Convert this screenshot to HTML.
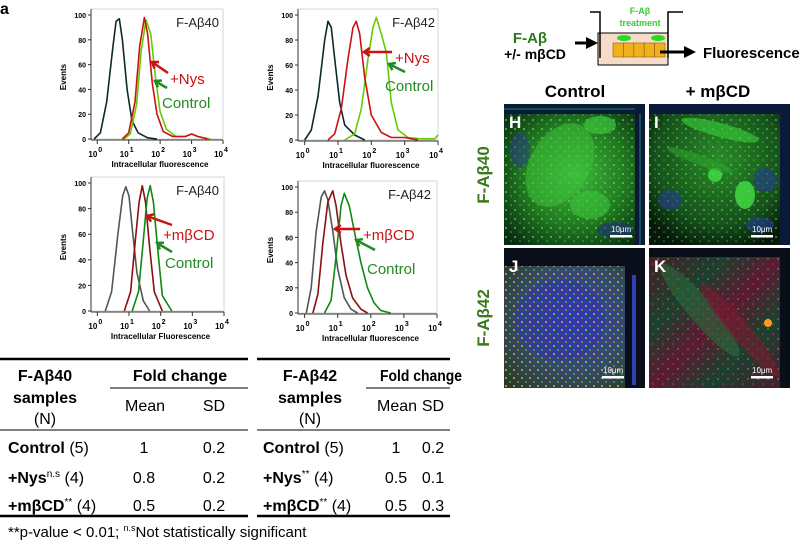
<!DOCTYPE html>
<html><head><meta charset="utf-8"><style>
html,body{margin:0;padding:0;background:#fff;}
svg{display:block;font-family:"Liberation Sans",Arial,sans-serif;}
</style></head><body>
<svg id="fig" width="800" height="544" viewBox="0 0 800 544" xmlns="http://www.w3.org/2000/svg">
<defs>
<radialGradient id="gH" cx="50%" cy="50%" r="65%"><stop offset="0" stop-color="#3fb83a"/><stop offset="0.55" stop-color="#237a22"/><stop offset="1" stop-color="#0a2a14"/></radialGradient>
<radialGradient id="gI" cx="50%" cy="40%" r="65%"><stop offset="0" stop-color="#2a8a28"/><stop offset="0.7" stop-color="#17501c"/><stop offset="1" stop-color="#08180c"/></radialGradient>
<radialGradient id="gJ" cx="50%" cy="50%" r="65%"><stop offset="0" stop-color="#3a40b0"/><stop offset="0.6" stop-color="#38486a"/><stop offset="1" stop-color="#2a3a2a"/></radialGradient>
<linearGradient id="gK" x1="0" y1="0" x2="1" y2="1"><stop offset="0" stop-color="#4a1a28"/><stop offset="0.3" stop-color="#1a4030"/><stop offset="0.5" stop-color="#5a1a34"/><stop offset="0.7" stop-color="#1a4030"/><stop offset="1" stop-color="#4a1a30"/></linearGradient>
<pattern id="pGreen" width="9" height="9" patternUnits="userSpaceOnUse"><circle cx="2" cy="3" r="1" fill="#5f5"/><circle cx="7" cy="7" r="0.8" fill="#4e4"/></pattern>
<pattern id="pYel" width="8" height="8" patternUnits="userSpaceOnUse"><circle cx="2" cy="2" r="1" fill="#dd2"/><circle cx="6" cy="6" r="0.9" fill="#4e4"/></pattern>
<pattern id="pRed" width="10" height="10" patternUnits="userSpaceOnUse"><circle cx="3" cy="4" r="0.9" fill="#e33"/><circle cx="8" cy="9" r="0.7" fill="#dd3"/></pattern>
<marker id="ah" markerWidth="4" markerHeight="4" refX="2" refY="2" orient="auto"><path d="M0,0 L4,2 L0,4 z" fill="#000"/></marker>
</defs>
<text x="0" y="14" font-size="16" font-weight="bold">a</text>
<g id="charts"></g>

<g>
<text x="530" y="43" font-size="15" font-weight="bold" fill="#2a7a1a" text-anchor="middle">F-Aβ</text>
<text x="535" y="59" font-size="14" font-weight="bold" text-anchor="middle">+/- mβCD</text>
<rect x="598" y="33" width="70" height="32" fill="#f6dcc8" stroke="#000" stroke-width="1"/>
<path d="M590,12 H600 V58 M683,12 H668 V58" fill="none" stroke="#000" stroke-width="1.5"/>
<g>
<rect x="613" y="43" width="10.4" height="14" fill="#f0b020" stroke="#8a6000" stroke-width="0.6"/>
<rect x="623.4" y="43" width="10.4" height="14" fill="#f0b020" stroke="#8a6000" stroke-width="0.6"/>
<rect x="633.8" y="43" width="10.4" height="14" fill="#f0b020" stroke="#8a6000" stroke-width="0.6"/>
<rect x="644.2" y="43" width="10.4" height="14" fill="#f0b020" stroke="#8a6000" stroke-width="0.6"/>
<rect x="654.6" y="43" width="10.4" height="14" fill="#f0b020" stroke="#8a6000" stroke-width="0.6"/>
</g>
<ellipse cx="624" cy="38" rx="7" ry="3" fill="#22dd22"/>
<ellipse cx="658" cy="38" rx="7" ry="3" fill="#22dd22"/>
<text x="640" y="14" font-size="9" font-weight="bold" fill="#33cc33" text-anchor="middle">F-Aβ</text>
<text x="640" y="26" font-size="9" font-weight="bold" fill="#33cc33" text-anchor="middle">treatment</text>
<line x1="575" y1="43" x2="592" y2="43" stroke="#000" stroke-width="3" marker-end="url(#ah)"/>
<line x1="660" y1="52" x2="690" y2="52" stroke="#000" stroke-width="3" marker-end="url(#ah)"/>
<text x="703" y="58" font-size="15" font-weight="bold">Fluorescence</text>
</g>

<text x="575" y="97" font-size="17" font-weight="bold" text-anchor="middle">Control</text>
<text x="718" y="97" font-size="17" font-weight="bold" text-anchor="middle">+ mβCD</text>
<text transform="translate(489,175) rotate(-90)" font-size="17" font-weight="bold" fill="#3a7a1a" text-anchor="middle">F-Aβ40</text>
<text transform="translate(489,318) rotate(-90)" font-size="17" font-weight="bold" fill="#3a7a1a" text-anchor="middle">F-Aβ42</text>

<g>
<rect x="504" y="104" width="141" height="141" fill="url(#gH)"/>
<rect x="504" y="104" width="141" height="141" fill="url(#pGreen)" opacity="0.7"/>
<ellipse cx="560" cy="165" rx="30" ry="45" fill="#3cc03a" opacity="0.55" transform="rotate(30 560 165)"/>
<ellipse cx="590" cy="205" rx="20" ry="14" fill="#3ac43a" opacity="0.6"/>
<ellipse cx="600" cy="125" rx="16" ry="9" fill="#3dc83d" opacity="0.7"/>
<ellipse cx="520" cy="150" rx="10" ry="18" fill="#2a3a90" opacity="0.5"/>
<ellipse cx="615" cy="230" rx="18" ry="8" fill="#20307a" opacity="0.6"/>
<rect x="504" y="104" width="141" height="10" fill="#0c1a3a"/>
<rect x="635" y="104" width="10" height="141" fill="#0c1a3a"/>
<line x1="504" y1="109" x2="635" y2="109" stroke="#2c9" stroke-width="1" opacity="0.6"/>
<line x1="640" y1="114" x2="640" y2="245" stroke="#2c9" stroke-width="1" opacity="0.6"/>
<text x="509" y="128" font-size="17" font-weight="bold" fill="#fff">H</text>
<text x="611" y="232" font-size="8" fill="#fff">10μm</text>
<rect x="610" y="235" width="22" height="2.5" fill="#fff"/>
</g>
<g>
<rect x="649" y="104" width="141" height="141" fill="url(#gI)"/>
<rect x="649" y="104" width="141" height="141" fill="url(#pGreen)" opacity="0.6"/>
<ellipse cx="720" cy="130" rx="40" ry="7" fill="#3ad03a" opacity="0.6" transform="rotate(15 720 130)"/>
<ellipse cx="745" cy="195" rx="10" ry="14" fill="#44e044" opacity="0.8"/>
<ellipse cx="715" cy="175" rx="7" ry="7" fill="#44e044" opacity="0.8"/>
<ellipse cx="700" cy="160" rx="35" ry="5" fill="#2aa02a" opacity="0.6" transform="rotate(20 700 160)"/>
<ellipse cx="670" cy="200" rx="12" ry="10" fill="#253c90" opacity="0.6"/>
<ellipse cx="765" cy="180" rx="12" ry="12" fill="#253c90" opacity="0.6"/>
<ellipse cx="760" cy="225" rx="14" ry="8" fill="#253c90" opacity="0.6"/>
<rect x="649" y="104" width="141" height="10" fill="#0c1a3a"/>
<rect x="780" y="114" width="10" height="131" fill="#0c1a3a"/>
<text x="654" y="128" font-size="17" font-weight="bold" fill="#fff">I</text>
<text x="752" y="232" font-size="8" fill="#fff">10μm</text>
<rect x="751" y="235" width="22" height="2.5" fill="#fff"/>
</g>
<g>
<rect x="504" y="248" width="141" height="140" fill="url(#gJ)"/>
<ellipse cx="560" cy="320" rx="45" ry="40" fill="#3030b0" opacity="0.5"/>
<rect x="504" y="266" width="121" height="122" fill="url(#pYel)" opacity="0.8"/>
<rect x="504" y="248" width="141" height="18" fill="#0a0e1a"/>
<rect x="625" y="266" width="20" height="122" fill="#0a0e1a"/>
<line x1="634" y1="275" x2="634" y2="385" stroke="#3040b0" stroke-width="4"/>
<text x="509" y="272" font-size="17" font-weight="bold" fill="#fff">J</text>
<text x="603" y="373" font-size="8" fill="#fff">10μm</text>
<rect x="602" y="376" width="22" height="2.5" fill="#fff"/>
</g>
<g>
<rect x="649" y="248" width="141" height="140" fill="url(#gK)"/>
<rect x="649" y="257" width="131" height="131" fill="url(#pRed)" opacity="0.7"/>
<ellipse cx="700" cy="310" rx="60" ry="12" fill="#2a6a3a" opacity="0.6" transform="rotate(50 700 310)"/>
<ellipse cx="740" cy="330" rx="60" ry="10" fill="#7a1a30" opacity="0.6" transform="rotate(50 740 330)"/>
<circle cx="768" cy="323" r="4" fill="#ff9a20"/>
<rect x="649" y="248" width="141" height="9" fill="#0a0e1a"/>
<rect x="780" y="257" width="10" height="131" fill="#0a0e1a"/>
<text x="654" y="272" font-size="17" font-weight="bold" fill="#fff">K</text>
<text x="752" y="373" font-size="8" fill="#fff">10μm</text>
<rect x="751" y="376" width="22" height="2.5" fill="#fff"/>
</g>

<g font-size="16">
<line x1="0" y1="359" x2="248" y2="359" stroke="#000" stroke-width="2.5"/>
<line x1="110" y1="388" x2="248" y2="388" stroke="#000" stroke-width="1"/>
<line x1="0" y1="430" x2="248" y2="430" stroke="#000" stroke-width="1"/>
<line x1="0" y1="516" x2="248" y2="516" stroke="#000" stroke-width="2.5"/>
<text x="45" y="381" font-weight="bold" text-anchor="middle">F-Aβ40</text>
<text x="45" y="403" font-weight="bold" text-anchor="middle">samples</text>
<text x="45" y="424" text-anchor="middle">(N)</text>
<text x="180" y="381" font-weight="bold" text-anchor="middle">Fold change</text>
<text x="145" y="411" text-anchor="middle">Mean</text>
<text x="214" y="411" text-anchor="middle">SD</text>
<text x="8" y="453"><tspan font-weight="bold">Control</tspan> (5)</text>
<text x="8" y="483"><tspan font-weight="bold">+Nys</tspan><tspan font-size="10" dy="-6">n.s</tspan><tspan dy="6"> (4)</tspan></text>
<text x="8" y="511"><tspan font-weight="bold">+mβCD</tspan><tspan font-size="10" dy="-6">**</tspan><tspan dy="6"> (4)</tspan></text>
<text x="144" y="453" text-anchor="middle">1</text><text x="214" y="453" text-anchor="middle">0.2</text>
<text x="144" y="483" text-anchor="middle">0.8</text><text x="214" y="483" text-anchor="middle">0.2</text>
<text x="144" y="511" text-anchor="middle">0.5</text><text x="214" y="511" text-anchor="middle">0.2</text>
</g>
<g font-size="16">
<line x1="257" y1="359" x2="450" y2="359" stroke="#000" stroke-width="2.5"/>
<line x1="366" y1="388" x2="450" y2="388" stroke="#000" stroke-width="1"/>
<line x1="257" y1="430" x2="450" y2="430" stroke="#000" stroke-width="1"/>
<line x1="257" y1="516" x2="450" y2="516" stroke="#000" stroke-width="2.5"/>
<text x="310" y="381" font-weight="bold" text-anchor="middle">F-Aβ42</text>
<text x="310" y="403" font-weight="bold" text-anchor="middle">samples</text>
<text x="310" y="424" text-anchor="middle">(N)</text>
<text x="380" y="381" font-weight="bold" textLength="82" lengthAdjust="spacingAndGlyphs">Fold change</text>
<text x="397" y="411" text-anchor="middle">Mean</text>
<text x="433" y="411" text-anchor="middle">SD</text>
<text x="263" y="453"><tspan font-weight="bold">Control</tspan> (5)</text>
<text x="263" y="483"><tspan font-weight="bold">+Nys</tspan><tspan font-size="10" dy="-6">**</tspan><tspan dy="6"> (4)</tspan></text>
<text x="263" y="511"><tspan font-weight="bold">+mβCD</tspan><tspan font-size="10" dy="-6">**</tspan><tspan dy="6"> (4)</tspan></text>
<text x="396" y="453" text-anchor="middle">1</text><text x="433" y="453" text-anchor="middle">0.2</text>
<text x="396" y="483" text-anchor="middle">0.5</text><text x="433" y="483" text-anchor="middle">0.1</text>
<text x="396" y="511" text-anchor="middle">0.5</text><text x="433" y="511" text-anchor="middle">0.3</text>
</g>
<text x="8" y="537" font-size="15">**p-value &lt; 0.01; <tspan font-size="9" dy="-6">n.s</tspan><tspan dy="6">Not statistically significant</tspan></text>
</svg>
<script>
// Panel data: x = log10(fluorescence), y = events
const logA_dark = [-0.1,0.1,0.3,0.5,0.6,0.7,0.8,0.95,1.1,1.3,1.6,1.9];
const evA_dark  = [0,5,30,75,95,97,80,40,15,5,1,0];
const logA_red  = [0.8,1.0,1.2,1.35,1.5,1.6,1.75,1.9,2.1,2.4,2.8,3.0,3.2,3.5];
const evA_red   = [0,5,30,75,98,85,45,20,6,2,2,4,2,0];
const logA_grn  = [0.85,1.05,1.25,1.4,1.55,1.7,1.85,2.0,2.2,2.5,2.8,3.0,3.2,3.6];
const evA_grn   = [0,4,28,72,96,85,50,22,8,2,2,4,2,0];

const logB_dark = [0,0.2,0.4,0.6,0.7,0.8,0.9,1.05,1.2,1.5,1.8];
const evB_dark  = [0,8,35,80,95,90,65,30,12,4,0];
const logB_red  = [0.7,0.9,1.1,1.3,1.45,1.55,1.65,1.8,2.0,2.3,2.6,3.0,3.4];
const evB_red   = [0,5,25,65,90,95,85,50,20,6,2,2,0];
const logB_grn  = [1.2,1.5,1.7,1.9,2.05,2.15,2.3,2.45,2.6,2.8,3.1,3.5,3.9,4.0];
const evB_grn   = [0,5,25,65,90,98,85,70,30,8,2,1,1,4];

const logC_gray = [0.25,0.45,0.65,0.8,0.9,1.0,1.1,1.25,1.45,1.65];
const evC_gray  = [0,15,60,90,97,90,65,30,8,0];
const logC_red  = [0.85,1.05,1.2,1.32,1.42,1.52,1.65,1.8,2.05];
const evC_red   = [0,15,55,85,98,85,50,15,0];
const logC_grn  = [1.1,1.3,1.45,1.57,1.67,1.77,1.9,2.05,2.35];
const evC_grn   = [0,15,55,88,98,85,50,12,0];

const logD_gray = [0.05,0.2,0.35,0.5,0.6,0.7,0.85,1.0,1.2,1.4,1.6];
const evD_gray  = [0,20,65,92,97,90,65,35,12,3,0];
const logD_red  = [0.25,0.4,0.55,0.7,0.85,0.95,1.1,1.25,1.45,1.7,1.9];
const evD_red   = [0,15,55,88,97,85,55,30,12,3,0];
const logD_grn  = [0.6,0.8,0.95,1.1,1.2,1.35,1.5,1.7,1.9,2.1,2.3,2.6];
const evD_grn   = [0,10,45,85,95,85,65,40,20,8,2,0];

const yTicks = [0,20,40,60,80,100];
const xTickExp = [0,1,2,3,4];

const panels = [
  {name:'a40-nys', x0:91, x1:223, yTop:15, yBot:139, title:'F-Aβ40', xlabel:'Intracellular fluorescence', tx:219, series:[
    {lx:logA_dark, ev:evA_dark, c:'#0e2a28', n:'unstained'}, {lx:logA_grn, ev:evA_grn, c:'#66cc00', n:'control'}, {lx:logA_red, ev:evA_red, c:'#cc1111', n:'nystatin'}],
    ann:[{t:'+Nys', x:170, y:84, c:'#cc1111', ax1:168, ay1:73, ax2:152, ay2:62},{t:'Control', x:162, y:108, c:'#228b22', ax1:167, ay1:88, ax2:155, ay2:81}]},
  {name:'a42-nys', x0:298, x1:438, yTop:15, yBot:140, title:'F-Aβ42', xlabel:'Intracellular fluorescence', tx:435, series:[
    {lx:logB_dark, ev:evB_dark, c:'#0e2a28', n:'unstained'}, {lx:logB_grn, ev:evB_grn, c:'#66cc00', n:'control'}, {lx:logB_red, ev:evB_red, c:'#cc1111', n:'nystatin'}],
    ann:[{t:'+Nys', x:395, y:63, c:'#cc1111', ax1:392, ay1:52, ax2:364, ay2:52},{t:'Control', x:385, y:91, c:'#228b22', ax1:405, ay1:72, ax2:389, ay2:64}]},
  {name:'a40-mbcd', x0:91, x1:224, yTop:183, yBot:311, title:'F-Aβ40', xlabel:'Intracellular Fluorescence', tx:219, series:[
    {lx:logC_gray, ev:evC_gray, c:'#555555', n:'unstained'}, {lx:logC_red, ev:evC_red, c:'#8b0f0f', n:'mbcd'}, {lx:logC_grn, ev:evC_grn, c:'#118811', n:'control'}],
    ann:[{t:'+mβCD', x:163, y:240, c:'#cc1111', ax1:172, ay1:225, ax2:147, ay2:216},{t:'Control', x:165, y:268, c:'#228b22', ax1:172, ay1:252, ax2:157, ay2:243}]},
  {name:'a42-mbcd', x0:298, x1:437, yTop:187, yBot:313, title:'F-Aβ42', xlabel:'Intracellular fluorescence', tx:431, series:[
    {lx:logD_gray, ev:evD_gray, c:'#555555', n:'unstained'}, {lx:logD_red, ev:evD_red, c:'#8b0f0f', n:'mbcd'}, {lx:logD_grn, ev:evD_grn, c:'#118811', n:'control'}],
    ann:[{t:'+mβCD', x:363, y:240, c:'#cc1111', ax1:360, ay1:229, ax2:335, ay2:229},{t:'Control', x:367, y:274, c:'#228b22', ax1:375, ay1:250, ax2:356, ay2:240}]}
];

const NS='http://www.w3.org/2000/svg';
const root=document.getElementById('charts');
function mk(tag, attrs, parent){const e=document.createElementNS(NS,tag);for(const k in attrs)e.setAttribute(k,attrs[k]);parent.appendChild(e);return e;}

panels.forEach(p=>{
  const g=mk('g',{},root);
  
  
  const xs=v=>p.x0+(v+0.2)/4.2*(p.x1-p.x0);
  const ys=v=>p.yBot-v/100*(p.yBot-p.yTop);
  mk('rect',{x:p.x0,y:p.yTop-6,width:p.x1-p.x0,height:p.yBot-p.yTop+6,fill:'none',stroke:'#ccc','stroke-width':0.8},g);
  mk('line',{x1:p.x0,y1:p.yTop-6,x2:p.x0,y2:p.yBot+1,stroke:'#333','stroke-width':1},g);
  mk('line',{x1:p.x0,y1:p.yBot+1,x2:p.x1,y2:p.yBot+1,stroke:'#333','stroke-width':1},g);
  yTicks.forEach(t=>{
    mk('line',{x1:p.x0-3,y1:ys(t),x2:p.x0,y2:ys(t),stroke:'#333'},g);
    const tt=mk('text',{x:p.x0-5,y:ys(t)+3,'font-size':7,'font-weight':'bold','text-anchor':'end'},g);
    tt.textContent=t;
    
    
  });
  xTickExp.forEach(e=>{
    mk('line',{x1:xs(e),y1:p.yBot+1,x2:xs(e),y2:p.yBot+5,stroke:'#333'},g);
    const tt=mk('text',{x:xs(e)-2,y:p.yBot+18,'font-size':8,'font-weight':'bold','text-anchor':'middle'},g);
    tt.textContent='10';
    const sp=mk('tspan',{'font-size':7,dy:-5,dx:1},tt);sp.textContent=e;
    
    
  });
  const yl=mk('text',{transform:`translate(${p.x0-25},${(p.yTop+p.yBot)/2}) rotate(-90)`,'font-size':8,'font-weight':'bold','text-anchor':'middle'},g);
  yl.textContent='Events';
  
  
  const xl=mk('text',{x:(p.x0+p.x1)/2+3,y:p.yBot+28,'font-size':8,'font-weight':'bold','text-anchor':'middle'},g);
  xl.textContent=p.xlabel;
  
  
  const ti=mk('text',{x:p.tx,y:p.yTop+12,'font-size':13,'text-anchor':'end',fill:'#222'},g);
  ti.textContent=p.title;
  
  
  p.series.forEach(s=>{
    const d=s.lx.map((v,i)=>(i?'L':'M')+xs(v).toFixed(1)+','+ys(s.ev[i]).toFixed(1)).join(' ');
    const path=mk('path',{d:d,fill:'none',stroke:s.c,'stroke-width':1.6,'stroke-linejoin':'round'},g);
    
    
  });
  p.ann.forEach(a=>{
    const ar=mk('line',{x1:a.ax1,y1:a.ay1,x2:a.ax2,y2:a.ay2,stroke:a.c,'stroke-width':2.5},g);
    
    
    const ang=Math.atan2(a.ay2-a.ay1,a.ax2-a.ax1);
    const hx=a.ax2,hy=a.ay2,L=7;
    const p1=[hx-L*Math.cos(ang-0.6),hy-L*Math.sin(ang-0.6)],p2=[hx-L*Math.cos(ang+0.6),hy-L*Math.sin(ang+0.6)];
    mk('path',{d:`M${p1} L${hx},${hy} L${p2}`,fill:'none',stroke:a.c,'stroke-width':2.5},g);
    const at=mk('text',{x:a.x,y:a.y,'font-size':15,fill:a.c},g);
    at.textContent=a.t;
    
    
  });
});
</script>
</body></html>
